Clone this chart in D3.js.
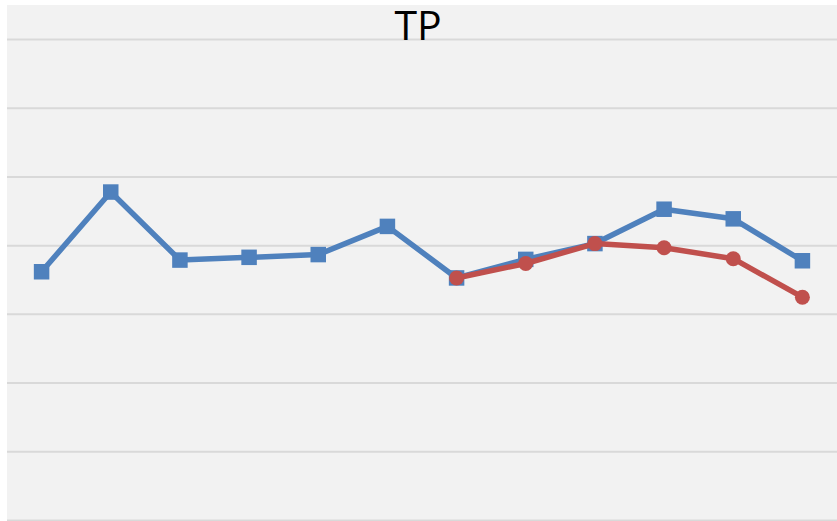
<!DOCTYPE html>
<html>
<head>
<meta charset="utf-8">
<script src="https://cdn.jsdelivr.net/npm/d3@7"></script>
<style>
  body { margin: 0; background: #fff; }
  svg { display: block; }
</style>
</head>
<body>
<svg id="chart" width="837" height="521" viewBox="0 0 837 521"></svg>
<script>
// data (y in gridline units, 0 = bottom line)
const categories = ["1","2","3","4","5","6","7","8","9","10","11","12"]
const blueValues = [3.62, 4.78, 3.79, 3.83, 3.87, 4.28, 3.53, 3.80, 4.03, 4.53, 4.39, 3.78]
const redValues = [null, null, null, null, null, null, 3.53, 3.74, 4.03, 3.97, 3.81, 3.25]
const yTicks = [0, 1, 2, 3, 4, 5, 6, 7]
const title = "TP"

const svg = d3.select("#chart")
const width = parseInt(svg.attr("viewBox").split(' ')[2])
const height = parseInt(svg.attr("viewBox").split(' ')[3])

const plot = {left: 7, top: 5, right: width, bottom: 520.5}

svg.append("rect")
    .attr("x", plot.left)
    .attr("y", plot.top)
    .attr("width", plot.right - plot.left)
    .attr("height", height - plot.top)
    .attr("fill", "#f2f2f2")

const x = d3.scalePoint()
    .domain(categories)
    .range([plot.left, plot.right])
    .padding(0.5)

const y = d3.scaleLinear()
    .domain([0, 7])
    .range([plot.bottom, 39.5])

// gridlines
svg.append("g")
    .selectAll("line")
    .data(yTicks)
    .enter()
    .append("line")
    .attr("x1", plot.left)
    .attr("x2", plot.right)
    .attr("y1", d => y(d))
    .attr("y2", d => y(d))
    .attr("stroke", "#d9d9d9")
    .attr("stroke-width", 2)

const line = d3.line()
    .defined(d => d.v !== null)
    .x(d => x(d.c))
    .y(d => y(d.v))

const blue = categories.map((c, i) => ({c: c, v: blueValues[i]}))
const red = categories.map((c, i) => ({c: c, v: redValues[i]}))

// blue series with square markers
svg.append("path")
    .datum(blue)
    .attr("d", line)
    .attr("fill", "none")
    .attr("stroke", "#4f81bd")
    .attr("stroke-width", 5.5)
    .attr("stroke-linejoin", "round")

const sq = 15.5
svg.append("g")
    .selectAll("rect")
    .data(blue)
    .enter()
    .append("rect")
    .attr("x", d => x(d.c) - sq / 2)
    .attr("y", d => y(d.v) - sq / 2)
    .attr("width", sq)
    .attr("height", sq)
    .attr("fill", "#4f81bd")

// red series with round markers
svg.append("path")
    .datum(red)
    .attr("d", line)
    .attr("fill", "none")
    .attr("stroke", "#c0504d")
    .attr("stroke-width", 5.5)
    .attr("stroke-linejoin", "round")

svg.append("g")
    .selectAll("circle")
    .data(red.filter(d => d.v !== null))
    .enter()
    .append("circle")
    .attr("cx", d => x(d.c))
    .attr("cy", d => y(d.v))
    .attr("r", 7.5)
    .attr("fill", "#c0504d")

svg.append("text")
    .attr("x", 418)
    .attr("y", 40)
    .attr("text-anchor", "middle")
    .attr("font-family", "'Open Sans', sans-serif")
    .attr("font-size", 41)
    .attr("fill", "#000")
    .text(title)
</script>
</body>
</html>
